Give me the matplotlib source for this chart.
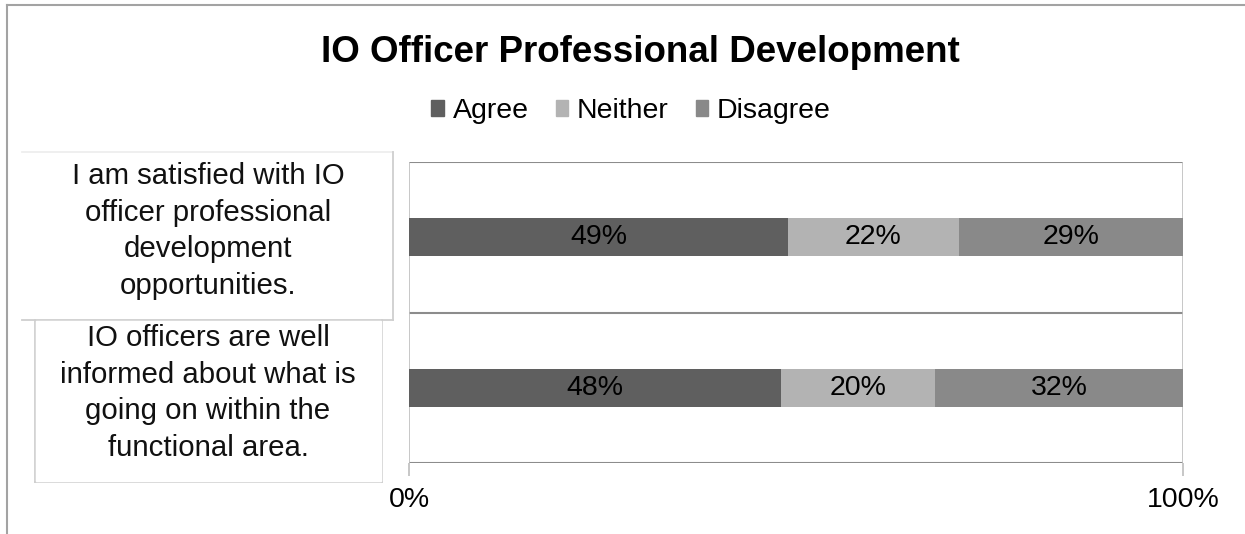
import matplotlib
matplotlib.use("Agg")
import matplotlib.pyplot as plt
from matplotlib.lines import Line2D
from matplotlib.patches import Patch

# survey items and response shares (percent)
questions = [
    "I am satisfied with IO\nofficer professional\ndevelopment\nopportunities.",
    "IO officers are well\ninformed about what is\ngoing on within the\nfunctional area.",
]
responses = ["Agree", "Neither", "Disagree"]
agree = [49, 48]
neither = [22, 20]
disagree = [29, 32]
xticks = [0, 100]
xtick_labels = ["0%", "100%"]

COLORS = ["#5f5f5f", "#b3b3b3", "#898989"]
W, H = 1245, 534
plt.rcParams["font.family"] = "Liberation Sans"


def fx(px):
    return px / W


def fy(py):
    return 1 - py / H


fig = plt.figure(figsize=(W / 100, H / 100), dpi=100)
fig.patch.set_facecolor("white")

# outer chart frame (top and left edges only)
fig.add_artist(Line2D([fx(7), 1], [fy(5), fy(5)], transform=fig.transFigure,
                      color="#a3a3a3", lw=1.5))
fig.add_artist(Line2D([fx(7), fx(7)], [fy(5), 0], transform=fig.transFigure,
                      color="#a3a3a3", lw=1.5))

ax = fig.add_axes([fx(409), fy(463), fx(1183) - fx(409), fy(162) - fy(463)])
ypos = list(range(len(questions)))

left = [0] * len(questions)
for name, vals, col in zip(responses, [agree, neither, disagree], COLORS):
    ax.barh(ypos, vals, left=left, height=0.25, color=col, label=name, zorder=2)
    for yi, l, v in zip(ypos, left, vals):
        ax.text(l + v / 2, yi, f"{v}%", ha="center", va="center",
                fontsize=20.5, color="black", zorder=3)
    left = [l + v for l, v in zip(left, vals)]

ax.set_xlim(0, 100)
ax.set_ylim(len(questions) - 0.5, -0.5)
for s in ax.spines.values():
    s.set_visible(False)
for yb in [y - 0.5 for y in ypos] + [ypos[-1] + 0.5]:
    ax.axhline(yb, color="#8c8c8c", lw=1.5, zorder=1)
for xv in xticks:
    ax.axvline(xv, color="#bdbdbd", lw=1.2, zorder=1)
ax.set_yticks([])
ax.set_xticks(xticks)
ax.set_xticklabels(xtick_labels, fontsize=20.5)
ax.tick_params(axis="x", length=9, width=1.2, color="#bdbdbd", pad=8)

fig.text(fx(640), fy(53), "IO Officer Professional Development",
         ha="center", va="center", fontsize=26.5, fontweight="bold")

handles = [Patch(color=c, label=n) for n, c in zip(responses, COLORS)]
fig.legend(handles=handles, loc="center", bbox_to_anchor=(fx(631), fy(111)),
           ncol=3, frameon=False, fontsize=20.5, handlelength=0.45,
           handleheight=0.45, handletextpad=0.3, columnspacing=0.95)

# category label boxes with light shadow edges
edge = "#cfcfcf"
for xs, ys, c in [
    ([22, 393], [152, 152], "#eeeeee"),
    ([393, 393], [152, 320], edge),
    ([22, 393], [320, 320], edge),
    ([35, 35], [320, 482], edge),
    ([35, 382], [482, 482], edge),
    ([382, 382], [320, 482], edge),
]:
    fig.add_artist(Line2D([fx(x) for x in xs], [fy(y) for y in ys],
                          transform=fig.transFigure, color=c, lw=1.3))
fig.add_artist(plt.Rectangle((fx(36), fy(481)), fx(381) - fx(36), fy(321) - fy(481),
                             transform=fig.transFigure, color="white", zorder=2))

for q, cy in zip(questions, [231, 393]):
    fig.text(fx(208), fy(cy), q, ha="center", va="center", multialignment="center",
             fontsize=21.2, linespacing=1.38, color="#111111", zorder=3)

fig.savefig("out.png", dpi=100, facecolor="white")
